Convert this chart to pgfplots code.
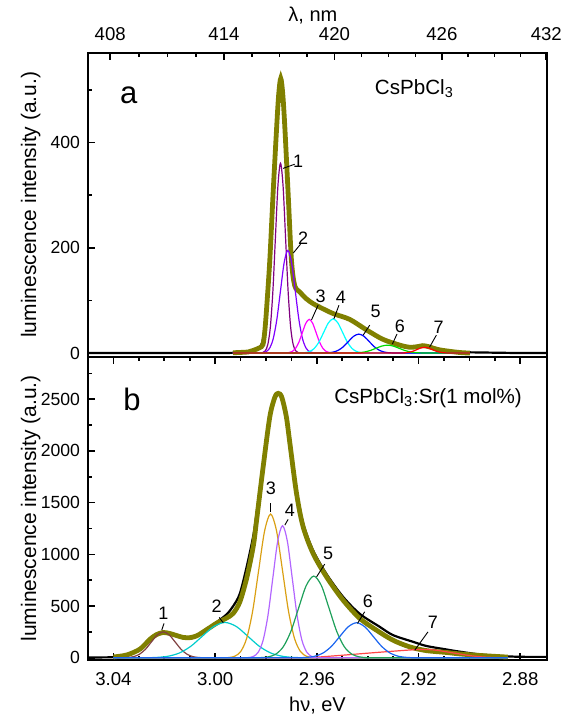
\documentclass[border=0pt]{standalone}
\usepackage{fontspec}
\setmainfont{Liberation Sans}
\usepackage{pgfplots}
\pgfplotsset{compat=1.18}
\definecolor{olv}{RGB}{128,128,0}
\definecolor{c1}{RGB}{128,0,128}
\definecolor{c2}{RGB}{128,0,255}
\definecolor{c3}{RGB}{255,0,255}
\definecolor{c4}{RGB}{0,255,255}
\definecolor{c5}{RGB}{0,0,255}
\definecolor{c6}{RGB}{0,220,0}
\definecolor{c7}{RGB}{255,0,0}
\definecolor{b1}{RGB}{128,64,64}
\definecolor{b2}{RGB}{0,204,204}
\definecolor{b3}{RGB}{218,160,20}
\definecolor{b4}{RGB}{178,102,255}
\definecolor{b5}{RGB}{30,160,90}
\definecolor{b6}{RGB}{25,100,240}
\definecolor{b7}{RGB}{255,70,70}
\pgfplotsset{
  panel/.style={
    scale only axis, width=229.5pt,
    x dir=reverse, xmin=2.8695, xmax=3.05,
    axis line style={line width=0.9pt},
    tick style={black, line width=0.8pt},
    major tick length=3.5pt, minor tick length=2pt,
    tick label style={font=\fontsize{9.3}{11}\selectfont},
    yticklabel style={font=\fontsize{8.8}{10}\selectfont, xshift=-0.5pt},
    label style={font=\fontsize{10}{12}\selectfont},
    /pgf/number format/assume math mode=true,
    /pgf/number format/1000 sep={},
    scaled ticks=false,
    ytick pos=left,
    every axis y label/.style={at={(axis description cs:-0.125,0.5)},rotate=90,anchor=center,font=\fontsize{10.5}{12}\selectfont},
    ylabel={luminescence intensity (a.u.)},
  },
  comp/.style={line width=0.6pt, smooth, tension=0.5},
  expt/.style={black, line width=1.1pt, smooth, tension=0.5},
  fit/.style={olv, line width=2.4pt, smooth, tension=0.5},
}
\tikzset{num/.style={font=\fontsize{9}{10}\selectfont, inner sep=0pt},
         lead/.style={black, line width=0.45pt}}
\begin{document}
\begin{tikzpicture}
\useasboundingbox (-44pt,-330.65pt) rectangle (236.5pt,26.35pt);
% ---------------- panel a ----------------
\begin{axis}[panel, name=top, at={(0,0)}, anchor=north west, height=152pt,
  ymin=-7, ymax=571, ytick={0,200,400}, minor ytick={100,300,500},
  xtick pos=right, xticklabel pos=right,
  xtick={3.04126,2.99653,2.95307,2.91084,2.86978},
  xticklabels={408,414,420,426,432},
  minor xtick={3.02996,3.01873,3.00759,2.98555,2.97464,2.96382,2.94240,2.93180,2.92128,2.90046,2.89016,2.87994},
  xticklabel style={yshift=2.5pt},
  xlabel={λ, nm}, xlabel style={at={(axis description cs:0.49,1.102)},anchor=base}]
\addplot[expt] coordinates {(3.05,0)(3.00,0)(2.990,1)(2.986,3)(2.983,8)(2.9815,20)(2.9805,50)(2.9798,90)(2.9785,190)(2.9772,315)(2.9758,440)(2.9750,495)(2.9743,512)(2.9735,490)(2.9726,430)(2.9713,300)(2.9700,180)(2.9687,128)(2.9667,114)(2.9641,103)(2.9615,94)(2.9588,86)(2.9536,75)(2.9471,63)(2.9405,44)(2.9340,26)(2.9274,15)(2.9235,12)(2.9183,14)(2.9117,7)(2.9039,2)(2.895,1)(2.88,0)(2.8695,0)};
\addplot[fit] coordinates {(2.993,0.5)(2.987,2)(2.985,5)(2.9825,10)(2.9812,16)(2.9805,40)(2.9798,82)(2.9785,177)(2.9772,304)(2.9758,430)(2.9750,492)(2.9742,522)(2.9734,492)(2.9726,430)(2.9713,304)(2.9700,177)(2.9687,128)(2.9667,116)(2.9641,103)(2.9615,94)(2.9588,87)(2.9536,75)(2.9471,64)(2.9405,44)(2.9340,26)(2.9274,15)(2.9235,11)(2.9205,12)(2.9183,14)(2.9160,12)(2.9117,6)(2.9039,1)(2.8998,0)};
\addplot[comp,c1] coordinates {(2.993,0)(2.9823,0.1)(2.9813,0.8)(2.9803,4.0)(2.9793,15.8)(2.9783,48.8)(2.9773,117.2)(2.9763,219.0)(2.9753,318.6)(2.9743,361)(2.9733,318.6)(2.9723,219.0)(2.9713,117.2)(2.9703,48.8)(2.9693,15.8)(2.9683,4.0)(2.9673,0.8)(2.9663,0.1)(2.8998,0)};
\addplot[comp,c2] coordinates {(2.993,0)(2.9830,0.07)(2.98155,0.43)(2.9801,2.2)(2.97865,8.6)(2.9772,26.4)(2.97575,63.3)(2.9743,118.3)(2.97285,172.1)(2.9714,195)(2.96995,172.1)(2.9685,118.3)(2.96705,63.3)(2.9656,26.4)(2.96415,8.6)(2.9627,2.2)(2.96125,0.43)(2.9598,0.07)(2.8998,0)};
\addplot[comp,c3] coordinates {(2.993,0)(2.9738,0.02)(2.97245,0.14)(2.9711,0.71)(2.96975,2.81)(2.9684,8.66)(2.96705,20.8)(2.9657,38.8)(2.96435,56.5)(2.963,64)(2.96165,56.5)(2.9603,38.8)(2.95895,20.8)(2.9576,8.66)(2.95625,2.81)(2.9549,0.71)(2.95355,0.14)(2.9522,0.02)(2.8998,0)};
\addplot[comp,c4] coordinates {(2.993,0)(2.9684,0.02)(2.96655,0.14)(2.9647,0.72)(2.96285,2.85)(2.961,8.8)(2.95915,21.1)(2.9573,39.4)(2.95545,57.4)(2.9536,65)(2.95175,57.4)(2.9499,39.4)(2.94805,21.1)(2.9462,8.8)(2.94435,2.85)(2.9425,0.72)(2.94065,0.14)(2.9388,0.02)(2.8998,0)};
\addplot[comp,c5] coordinates {(2.993,0)(2.9599,0.01)(2.95785,0.08)(2.9558,0.4)(2.95375,1.58)(2.9517,4.87)(2.94965,11.7)(2.9476,21.8)(2.94555,31.8)(2.9435,36)(2.94145,31.8)(2.9394,21.8)(2.93735,11.7)(2.9353,4.87)(2.93325,1.58)(2.9312,0.4)(2.92915,0.08)(2.9271,0.01)(2.8998,0)};
\addplot[comp,c6] coordinates {(2.993,0)(2.9502,0)(2.94795,0.03)(2.9457,0.17)(2.94345,0.66)(2.9412,2.03)(2.93895,4.87)(2.9367,9.1)(2.93445,13.2)(2.9322,15)(2.92995,13.2)(2.9277,9.1)(2.92545,4.87)(2.9232,2.03)(2.92095,0.66)(2.9187,0.17)(2.91645,0.03)(2.9142,0)(2.8998,0)};
\addplot[comp,c7] coordinates {(2.993,0)(2.9296,0)(2.9281,0.02)(2.9266,0.12)(2.9251,0.48)(2.9236,1.49)(2.9221,3.57)(2.9206,6.67)(2.9191,9.7)(2.9176,11)(2.9161,9.7)(2.9146,6.67)(2.9131,3.57)(2.9116,1.49)(2.9101,0.48)(2.9086,0.12)(2.9071,0.02)(2.9056,0)(2.8998,0)};
\draw[lead] (axis cs:2.9733,351) -- (axis cs:2.9687,359);
\node[num] at (axis cs:2.9674,365) {1};
\draw[lead] (axis cs:2.9693,190) -- (axis cs:2.9664,207);
\node[num] at (axis cs:2.9654,218) {2};
\draw[lead] (axis cs:2.9621,63) -- (axis cs:2.9595,91);
\node[num] at (axis cs:2.9585,107) {3};
\draw[lead] (axis cs:2.9533,65) -- (axis cs:2.9513,91);
\node[num] at (axis cs:2.9506,106) {4};
\draw[lead] (axis cs:2.9418,34) -- (axis cs:2.9392,53);
\node[num] at (axis cs:2.9369,80) {5};
\draw[lead] (axis cs:2.9303,17) -- (axis cs:2.9285,36);
\node[num] at (axis cs:2.9274,50) {6};
\draw[lead] (axis cs:2.9157,11) -- (axis cs:2.9130,34);
\node[num] at (axis cs:2.9121,49) {7};
\node[font=\fontsize{15.5}{18}\selectfont, inner sep=0pt] at (axis cs:3.0340,490) {a};
\node[font=\fontsize{10.3}{12}\selectfont, inner sep=0pt, anchor=base west] at (axis cs:2.9373,491) {CsPbCl\textsubscript{3}};
\end{axis}
% ---------------- panel b ----------------
\begin{axis}[panel, at={(top.south west)}, anchor=north west, height=151.7pt,
  ymin=-22, ymax=2911, ytick={0,500,1000,1500,2000,2500}, minor ytick={250,750,1250,1750,2250,2750},
  xtick={2.88,2.92,2.96,3.00,3.04},
  minor xtick={3.03,3.02,3.01,2.99,2.98,2.97,2.95,2.94,2.93,2.91,2.90,2.89},
  xtick pos=both, xticklabel pos=left,
  xticklabel style={/pgf/number format/.cd, fixed, fixed zerofill, precision=2, /tikz/.cd, yshift=-2.5pt},
  xlabel={hν, eV}, xlabel style={at={(axis description cs:0.5,-0.1704)},anchor=base}]
\addplot[expt] coordinates {(3.05,3)(3.045,4)(3.040,7)(3.0347,28)(3.0295,92)(3.0256,178)(3.0230,228)(3.0204,245)(3.0178,230)(3.0151,208)(3.0125,188)(3.0099,185)(3.0073,205)(3.0047,248)(2.9994,345)(2.9955,420)(2.9929,500)(2.9903,620)(2.9876,880)(2.9850,1180)(2.9837,1400)(2.9811,1880)(2.9785,2330)(2.9765,2500)(2.9752,2545)(2.9738,2510)(2.9720,2330)(2.9706,2090)(2.9680,1620)(2.9654,1300)(2.9615,1040)(2.9562,810)(2.9497,590)(2.9431,425)(2.9353,300)(2.9301,220)(2.9222,155)(2.9170,115)(2.9091,81)(2.9039,60)(2.8960,33)(2.8880,18)(2.8803,10)(2.8695,9)};
\addplot[fit] coordinates {(3.040,8)(3.0347,28)(3.0295,85)(3.0256,180)(3.0230,225)(3.0204,245)(3.0178,235)(3.0151,215)(3.0125,197)(3.0099,195)(3.0073,212)(3.0047,250)(2.9994,335)(2.9955,385)(2.9929,430)(2.9903,540)(2.9876,770)(2.9850,1080)(2.9837,1330)(2.9811,1850)(2.9785,2330)(2.9765,2520)(2.9752,2557)(2.9738,2520)(2.9720,2330)(2.9706,2073)(2.9680,1590)(2.9654,1267)(2.9615,1010)(2.9562,783)(2.9497,558)(2.9431,381)(2.9366,268)(2.9301,171)(2.9235,106)(2.9170,70)(2.9091,52)(2.9039,38)(2.8960,23)(2.8849,7)};
\addplot[comp,b7] coordinates {(3.04,0)(2.966,0)(2.962,3)(2.958,10)(2.95,25)(2.94,45)(2.93,64)(2.922,78)(2.918,81)(2.914,76)(2.91,62)(2.905,42)(2.90,22)(2.895,9)(2.89,3)(2.885,1)};
\addplot[comp,b1] coordinates {(3.04,0)(3.0392,0.08)(3.03685,0.55)(3.0345,2.8)(3.03215,11.0)(3.0298,34.0)(3.02745,81.5)(3.0251,152.2)(3.02275,221.5)(3.0204,251)(3.01805,221.5)(3.0157,152.2)(3.01335,81.5)(3.011,34.0)(3.00865,11.0)(3.0063,2.8)(3.00395,0.55)(3.0016,0.08)(2.885,0)};
\addplot[comp,b2] coordinates {(3.04,0)(3.0321,0.11)(3.0276,0.75)(3.0231,3.8)(3.0186,15.0)(3.0141,46.3)(3.0096,111.0)(3.0051,207.4)(3.0006,301.8)(2.9961,342)(2.9916,301.8)(2.9871,207.4)(2.9826,111.0)(2.9781,46.3)(2.9736,15.0)(2.9691,3.8)(2.9646,0.75)(2.9601,0.11)(2.885,0)};
\addplot[comp,b3] coordinates {(3.04,0)(2.9970,0.47)(2.99465,3.0)(2.9923,15.4)(2.98995,61.0)(2.9876,188.1)(2.98525,451.3)(2.9829,843.0)(2.98055,1226.7)(2.9782,1390)(2.97585,1226.7)(2.9735,843.0)(2.97115,451.3)(2.9688,188.1)(2.96645,61.0)(2.9641,15.4)(2.96175,3.0)(2.9594,0.47)(2.885,0)};
\addplot[comp,b4] coordinates {(3.04,0)(2.9887,0.43)(2.9868,2.8)(2.9849,14.2)(2.9830,56.1)(2.9811,172.8)(2.9792,414.6)(2.9773,774.5)(2.9754,1127.0)(2.9735,1277)(2.9716,1127.0)(2.9697,774.5)(2.9678,414.6)(2.9659,172.8)(2.9640,56.1)(2.9621,14.2)(2.9602,2.8)(2.9583,0.43)(2.885,0)};
\addplot[comp,b5] coordinates {(3.04,0)(2.9852,0.26)(2.9822,1.7)(2.9792,8.8)(2.9762,34.7)(2.9732,106.9)(2.9702,256.5)(2.9672,479.1)(2.9642,697.2)(2.9612,790)(2.9582,697.2)(2.9552,479.1)(2.9522,256.5)(2.9492,106.9)(2.9462,34.7)(2.9432,8.8)(2.9402,1.7)(2.9372,0.26)(2.885,0)};
\addplot[comp,b6] coordinates {(3.04,0)(2.9708,0.11)(2.9675,0.74)(2.9642,3.8)(2.9609,14.9)(2.9576,45.9)(2.9543,110.1)(2.9510,205.6)(2.9477,299.2)(2.9444,339)(2.9411,299.2)(2.9378,205.6)(2.9345,110.1)(2.9312,45.9)(2.9279,14.9)(2.9246,3.8)(2.9213,0.74)(2.9180,0.11)(2.885,0)};
\draw[lead] (axis cs:3.0210,268) -- (axis cs:3.0201,333);
\node[num] at (axis cs:3.0204,429) {1};
\draw[lead] (axis cs:2.9968,338) -- (axis cs:2.9984,391);
\node[num] at (axis cs:2.9994,500) {2};
\draw[lead] (axis cs:2.9781,1412) -- (axis cs:2.9781,1493);
\node[num] at (axis cs:2.9781,1638) {3};
\draw[lead] (axis cs:2.9726,1283) -- (axis cs:2.9713,1338);
\node[num] at (axis cs:2.9706,1428) {4};
\draw[lead] (axis cs:2.9601,783) -- (axis cs:2.9569,906);
\node[num] at (axis cs:2.9556,1010) {5};
\draw[lead] (axis cs:2.9440,333) -- (axis cs:2.9412,445);
\node[num] at (axis cs:2.9399,551) {6};
\draw[lead] (axis cs:2.9215,74) -- (axis cs:2.9163,251);
\node[num] at (axis cs:2.9144,348) {7};
\node[font=\fontsize{15.5}{18}\selectfont, inner sep=0pt] at (axis cs:3.0327,2502) {b};
\node[font=\fontsize{10.3}{12}\selectfont, inner sep=0pt, anchor=base west] at (axis cs:2.9533,2460) {CsPbCl\textsubscript{3}:Sr(1 mol\%)};
\end{axis}
\end{tikzpicture}
\end{document}
